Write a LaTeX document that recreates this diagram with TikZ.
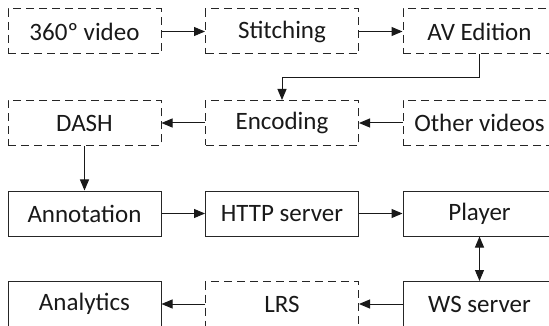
\documentclass[tikz,border=0pt]{standalone}
\usepackage{fontspec}
\setmainfont{Carlito}
\usetikzlibrary{arrows.meta}
\begin{document}
\begin{tikzpicture}[x=1pt,y=1pt,
  box/.style={draw=black!85,line width=1pt,minimum width=153pt,minimum height=45pt,inner sep=0pt,font=\fontsize{25}{27}\selectfont,text=black!90},
  dbox/.style={box,dash pattern=on 8pt off 5pt},
  conn/.style={draw=black!90,line width=1pt,-{Triangle[length=11pt,width=9pt]}},
  biconn/.style={draw=black!90,line width=1pt,{Triangle[length=11pt,width=9pt]}-{Triangle[length=11pt,width=9pt]}}]
\useasboundingbox (0,0) rectangle (549,-326);
\node[dbox] (v360) at (84.5,-31.5) {360º video};
\node[dbox] (stitch) at (282,-31.5) {Stitching};
\node[dbox] (av) at (479.5,-31.5) {AV Edition};
\node[dbox] (dash) at (84.5,-123) {DASH};
\node[dbox] (enc) at (282,-123) {Encoding};
\node[dbox] (other) at (479.5,-123) {Other videos};
\node[box] (ann) at (84.5,-213.5) {Annotation};
\node[box] (http) at (282,-213.5) {HTTP server};
\node[box] (player) at (479.5,-213.5) {Player};
\node[box] (analytics) at (84.5,-304) {Analytics};
\node[dbox] (lrs) at (282,-304) {LRS};
\node[box] (ws) at (479.5,-304) {WS server};
\coordinate (bend) at (0,-78);
\draw[conn] (v360) -- (stitch);
\draw[conn] (stitch) -- (av);
\draw[conn] (av.south) |- (bend -| enc.north) -- (enc.north);
\draw[conn] (other) -- (enc);
\draw[conn] (enc) -- (dash);
\draw[conn] (dash) -- (ann);
\draw[conn] (ann) -- (http);
\draw[conn] (http) -- (player);
\draw[biconn] (player) -- (ws);
\draw[conn] (ws) -- (lrs);
\draw[conn] (lrs) -- (analytics);
\end{tikzpicture}
\end{document}
